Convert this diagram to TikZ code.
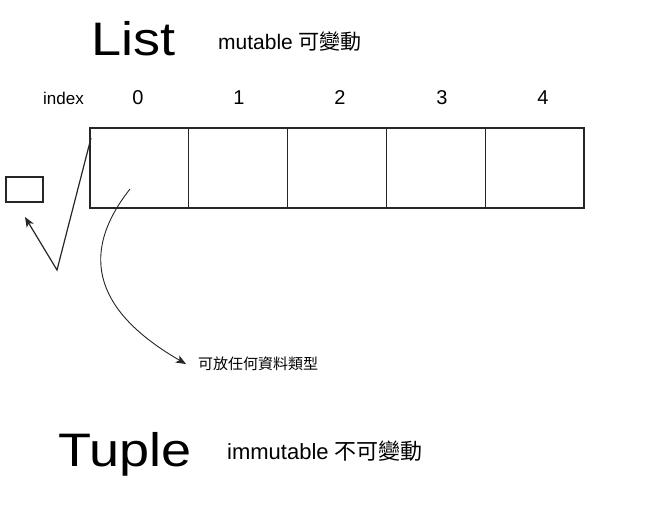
\documentclass[tikz,border=0pt]{standalone}
\usepackage{fontspec}
\setmainfont{Liberation Sans}
\newfontfamily\cjk{Noto Sans CJK TC}
\usetikzlibrary{arrows.meta}
\tikzset{
  cellbox/.style={draw=black!85, line width=1.3pt, minimum width=98.8pt, minimum height=80pt, inner sep=0pt, outer sep=0pt},
  title/.style={anchor=base west, inner sep=0pt, xscale=1.15, font=\fontsize{47}{47}\selectfont},
  note/.style={anchor=base west, inner sep=0pt, font=\fontsize{21}{21}\selectfont},
  idx/.style={anchor=base, inner sep=0pt, font=\fontsize{20}{20}\selectfont},
  tip/.style={-{Stealth[length=10pt,width=8pt,inset=2.5pt]}}
}
\begin{document}
\begin{tikzpicture}[x=1pt,y=-1pt]
				\useasboundingbox[fill=white] (0,0) rectangle (652,517);
				
				\node[title] (list) at (91,55) {List};
				\node[note] (mut) at (218,49) {mutable {\cjk 可變動}};
				
				\node[anchor=base west, inner sep=0pt, font=\fontsize{17}{17}\selectfont] (index) at (43,104) {index};
				\foreach \i/\x in {0/138,1/239,2/340,3/442,4/543}
					\node[idx] (num\i) at (\x,104) {\i};
				
				\foreach \i in {0,...,4}
					\node[cellbox] (cell\i) at ({139.4+98.8*\i},168) {};
				
				\node[draw=black!85, line width=1.2pt, minimum width=37pt, minimum height=25pt, inner sep=0pt] (box) at (24.5,189.5) {};
				
				\coordinate (vtop) at (91,138);
				\coordinate (vlow) at (57,270);
				\coordinate (vend) at (25,217);
				\draw[tip, line width=1.2pt, black!85] (vtop) -- (vlow) -- (vend);
				
				\coordinate (src) at (130,189);
				\node[anchor=west, inner sep=0pt, font=\cjk\fontsize{15}{15}\selectfont] (any) at (198,364) {可放任何資料類型};
				\draw[tip, line width=0.9pt, black!85] (src) .. controls (70,265) and (110,320) .. ([xshift=-12pt]any.west);
				
				\node[title] (tuple) at (58,466) {Tuple};
				\node[note, font=\fontsize{22}{22}\selectfont] (immut) at (227,459) {immutable {\cjk 不可變動}};
			\end{tikzpicture}
\end{document}
